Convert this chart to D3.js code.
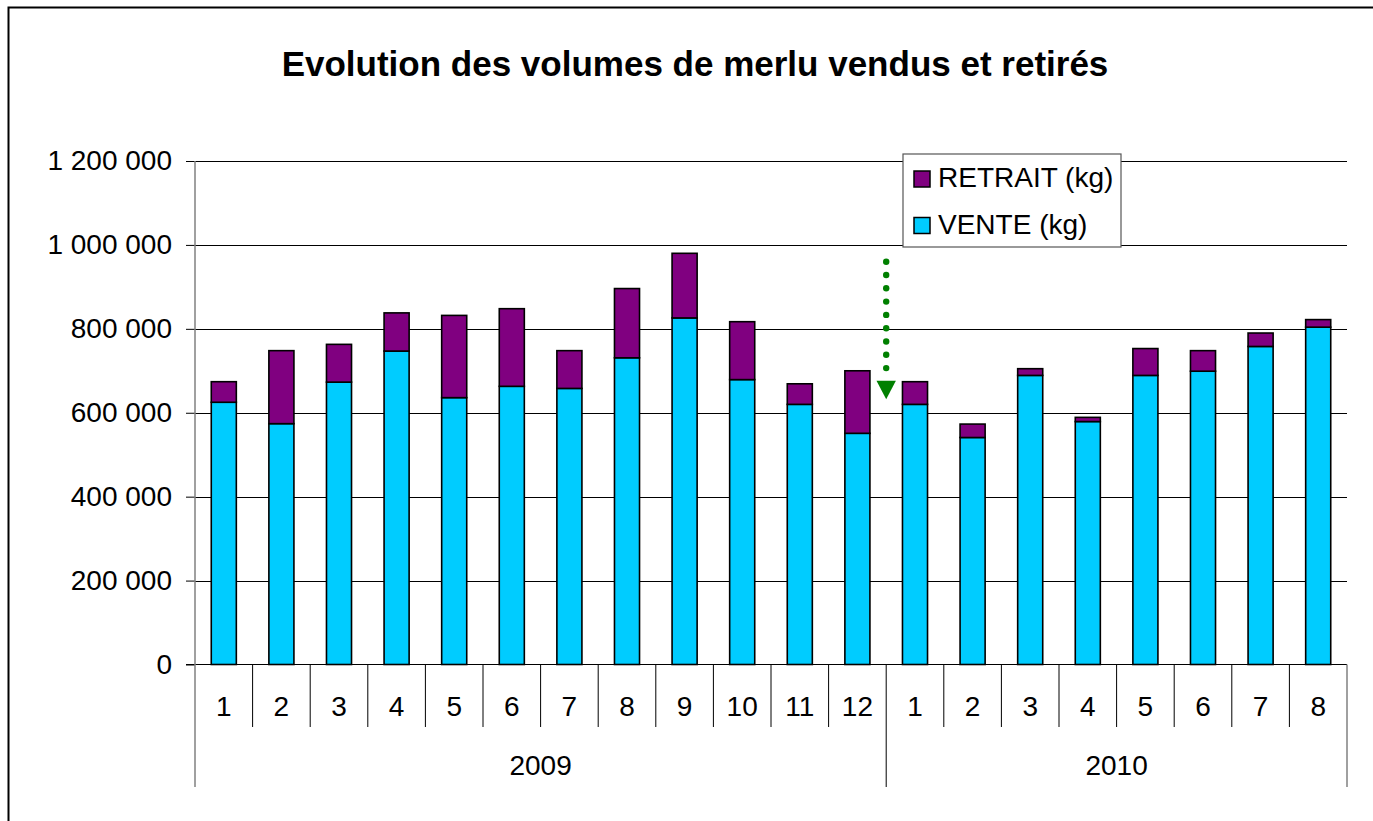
<!DOCTYPE html>
<html>
<head>
<meta charset="utf-8">
<script src="https://cdn.jsdelivr.net/npm/d3@7"></script>
<style>
  body { margin: 0; background: #fff; }
  text { font-family: "Liberation Sans", Arial, sans-serif; fill: #000; }
</style>
</head>
<body>
<div id="chart"></div>
<script>
// data (kg)
var months = ['1', '2', '3', '4', '5', '6', '7', '8', '9', '10', '11', '12',
              '1', '2', '3', '4', '5', '6', '7', '8']
var years = ['2009', '2009', '2009', '2009', '2009', '2009', '2009', '2009', '2009', '2009', '2009', '2009',
             '2010', '2010', '2010', '2010', '2010', '2010', '2010', '2010']
var vente = [625000, 574000, 673000, 747000, 636000, 663000, 658000, 731000, 826000, 679000,
             620000, 551000, 620000, 541000, 689000, 579000, 689000, 699000, 758000, 804000]
var retrait = [49000, 174000, 90000, 91000, 196000, 185000, 90000, 165000, 154000, 138000,
               49000, 149000, 54000, 32000, 16000, 10000, 64000, 49000, 32000, 18000]
var yTicks = [0, 200000, 400000, 600000, 800000, 1000000, 1200000]
var seriesNames = ['RETRAIT (kg)', 'VENTE (kg)']
// arrow marks the change between 2009 and 2010
var arrowFrom = 960000
var arrowTo = 632000

var colors = { vente: '#00ccff', retrait: '#800080' }

var W = 1373, H = 821
var plotLeft = 195, plotRight = 1347, plotTop = 161, plotBottom = 664.5

var svg = d3.select('#chart')
    .append('svg')
    .attr('width', W)
    .attr('height', H)

// outer frame (runs off the picture at right and bottom)
svg.append('rect')
    .attr('x', 8.5)
    .attr('y', 7.5)
    .attr('width', W + 20)
    .attr('height', H + 20)
    .style('fill', '#fff')
    .style('stroke', '#000')
    .style('stroke-width', 2)

svg.append('text')
    .attr('x', 695)
    .attr('y', 76)
    .attr('text-anchor', 'middle')
    .style('font-size', '35px')
    .style('font-weight', 'bold')
    .text('Evolution des volumes de merlu vendus et retirés')

var idx = d3.range(months.length)

var x = d3.scaleBand()
    .domain(idx)
    .range([plotLeft, plotRight])
    .paddingInner(0.565)
    .paddingOuter(0.2825)

var y = d3.scaleLinear()
    .domain([0, 1200000])
    .range([plotBottom, plotTop])

var fmt = function (d) { return d3.format(',')(d).replace(/,/g, ' ') }

// grid lines
svg.append('g')
    .selectAll('line')
    .data(yTicks.slice(1))
    .enter().append('line')
    .attr('x1', plotLeft)
    .attr('x2', plotRight)
    .attr('y1', function (d) { return Math.round(y(d)) + 0.5 })
    .attr('y2', function (d) { return Math.round(y(d)) + 0.5 })
    .style('stroke', '#000')
    .style('stroke-width', 1)

// y axis
var yAxis = d3.axisLeft(y)
    .tickValues(yTicks)
    .tickSize(9)
    .tickPadding(14)
    .tickFormat(fmt)
var gy = svg.append('g')
    .attr('transform', 'translate(' + plotLeft + ',0)')
    .call(yAxis)
gy.select('.domain').remove()
gy.selectAll('.tick line').style('stroke', '#000')
gy.selectAll('.tick text')
    .style('font-size', '28px')
    .style('font-family', '"Liberation Sans", Arial, sans-serif')
    .style('fill', '#000')

// stacked bars
var rows = idx.map(function (i) {
    return { i: i, vente: vente[i], retrait: retrait[i] }
})
var stack = d3.stack().keys(['vente', 'retrait'])(rows)

svg.append('g')
    .selectAll('g')
    .data(stack)
    .enter().append('g')
    .style('fill', function (s) { return colors[s.key] })
    .selectAll('rect')
    .data(function (s) { return s })
    .enter().append('rect')
    .attr('x', function (d) { return x(d.data.i) })
    .attr('width', x.bandwidth())
    .attr('y', function (d) { return y(d[1]) })
    .attr('height', function (d) { return y(d[0]) - y(d[1]) })
    .style('stroke', '#000')
    .style('stroke-width', 1.6)

// x axis line
svg.append('line')
    .attr('x1', plotLeft - 9)
    .attr('x2', plotRight)
    .attr('y1', plotBottom)
    .attr('y2', plotBottom)
    .style('stroke', '#000')
    .style('stroke-width', 1.2)

// left axis (grey)
svg.append('line')
    .attr('x1', plotLeft)
    .attr('x2', plotLeft)
    .attr('y1', plotTop)
    .attr('y2', 787)
    .style('stroke', '#808080')
    .style('stroke-width', 1.5)

// month separators
var step = x.step()
svg.append('g')
    .selectAll('line')
    .data(d3.range(1, months.length))
    .enter().append('line')
    .attr('x1', function (i) { return x(i) - x.paddingOuter() * step })
    .attr('x2', function (i) { return x(i) - x.paddingOuter() * step })
    .attr('y1', plotBottom)
    .attr('y2', function (i) { return years[i] !== years[i - 1] ? 787 : 727 })
    .style('stroke', '#000')
    .style('stroke-width', 1)

// right end of the category axis
svg.append('line')
    .attr('x1', plotRight)
    .attr('x2', plotRight)
    .attr('y1', plotBottom)
    .attr('y2', 787)
    .style('stroke', '#808080')
    .style('stroke-width', 1.5)

// month labels
svg.append('g')
    .selectAll('text')
    .data(idx)
    .enter().append('text')
    .attr('x', function (i) { return x(i) + x.bandwidth() / 2 })
    .attr('y', 716)
    .attr('text-anchor', 'middle')
    .style('font-size', '28px')
    .text(function (i) { return months[i] })

// year labels
var yearGroups = d3.groups(idx, function (i) { return years[i] })
svg.append('g')
    .selectAll('text')
    .data(yearGroups)
    .enter().append('text')
    .attr('x', function (g) {
        var a = x(g[1][0]) - x.paddingOuter() * step
        var b = x(g[1][g[1].length - 1]) - x.paddingOuter() * step + step
        return (a + b) / 2
    })
    .attr('y', 775)
    .attr('text-anchor', 'middle')
    .style('font-size', '28px')
    .text(function (g) { return g[0] })

// green dotted arrow at the year change
var ax = x(12) - x.paddingOuter() * step
var tipY = y(arrowTo)
var headH = 18.5
svg.append('g')
    .selectAll('circle')
    .data(d3.range(y(arrowFrom), tipY - headH - 8, 13.3))
    .enter().append('circle')
    .attr('cx', ax)
    .attr('cy', function (d) { return d })
    .attr('r', 3.2)
    .style('fill', '#008000')
svg.append('path')
    .attr('d', 'M' + (ax - 9.7) + ',' + (tipY - headH) + 'L' + (ax + 9.7) + ',' + (tipY - headH) + 'L' + ax + ',' + tipY + 'Z')
    .style('fill', '#008000')

// legend
var lg = svg.append('g')
lg.append('rect')
    .attr('x', 903)
    .attr('y', 154)
    .attr('width', 218)
    .attr('height', 93)
    .style('fill', '#fff')
    .style('stroke', '#555')
    .style('stroke-width', 1.2)
var legendItems = lg.selectAll('g')
    .data(seriesNames)
    .enter().append('g')
    .attr('transform', function (d, i) { return 'translate(0,' + (i * 46.5) + ')' })
legendItems.append('rect')
    .attr('x', 914)
    .attr('y', 171)
    .attr('width', 16)
    .attr('height', 16)
    .style('fill', function (d, i) { return i === 0 ? colors.retrait : colors.vente })
    .style('stroke', '#000')
    .style('stroke-width', 1.5)
legendItems.append('text')
    .attr('x', 938)
    .attr('y', 187)
    .style('font-size', '28px')
    .text(function (d) { return d })
</script>
</body>
</html>
